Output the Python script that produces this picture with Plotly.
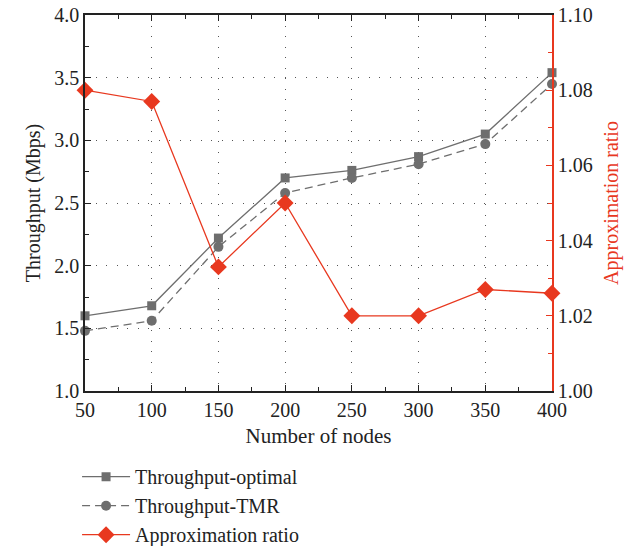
import plotly.graph_objects as go

nodes = [50, 100, 150, 200, 250, 300, 350, 400]
throughput_optimal = [1.60, 1.68, 2.22, 2.70, 2.76, 2.87, 3.05, 3.54]
throughput_tmr = [1.48, 1.56, 2.15, 2.58, 2.70, 2.81, 2.97, 3.45]
approx_ratio = [1.080, 1.077, 1.033, 1.050, 1.020, 1.020, 1.027, 1.026]

GRAY = "#6e6e6e"
RED = "#e8381f"
FONT = "Liberation Serif"
FS = 20
GRIDDASH = "1.2px,9.3px"

fig = go.Figure()
fig.add_trace(go.Scatter(x=nodes, y=throughput_optimal, name="Throughput-optimal",
                         mode="lines+markers", line=dict(color=GRAY, width=1.3),
                         marker=dict(symbol="square", size=9, color=GRAY), cliponaxis=False))
fig.add_trace(go.Scatter(x=nodes, y=throughput_tmr, name="Throughput-TMR",
                         mode="lines+markers", line=dict(color=GRAY, width=1.3, dash="8px,5px"),
                         marker=dict(symbol="circle", size=10, color=GRAY), cliponaxis=False))
fig.add_trace(go.Scatter(x=nodes, y=approx_ratio, name="Approximation ratio", yaxis="y2",
                         mode="lines+markers", line=dict(color=RED, width=1.3),
                         marker=dict(symbol="diamond", size=13, color=RED), cliponaxis=False))

fig.update_layout(
    width=644, height=546,
    margin=dict(l=85, r=92, t=15, b=155, autoexpand=False),
    paper_bgcolor="white", plot_bgcolor="white",
    font=dict(family=FONT, size=FS, color="#222"),
    showlegend=True,
    legend=dict(x=-0.017, y=-0.176, xanchor="left", yanchor="top",
                font=dict(family=FONT, size=20, color="#222"),
                bgcolor="rgba(0,0,0,0)", tracegroupgap=0, itemwidth=48),
    xaxis=dict(range=[50, 400], tickvals=[50, 100, 150, 200, 250, 300, 350, 400],
               ticks="inside", ticklen=6, tickcolor="#222", showline=True, linecolor="#222",
               linewidth=1.5, mirror="ticks", showgrid=True, gridcolor="#555",
               griddash=GRIDDASH, gridwidth=1, zeroline=False, automargin=False,
               minor=dict(ticks="inside", ticklen=4, dtick=25, tick0=50, tickcolor="#222", showgrid=False),
               title=dict(text="Number of nodes", font=dict(size=21), standoff=9)),
    yaxis=dict(range=[1.0, 4.0], tickvals=[1.0, 1.5, 2.0, 2.5, 3.0, 3.5, 4.0],
               ticktext=["1.0", "1.5", "2.0", "2.5", "3.0", "3.5", "4.0"],
               ticks="inside", ticklen=6, tickcolor="#222", showline=True, linecolor="#222",
               linewidth=1.5, showgrid=True, gridcolor="#555", griddash=GRIDDASH, gridwidth=1,
               zeroline=False, automargin=False, ticklabeloverflow="allow",
               minor=dict(ticks="inside", ticklen=4, dtick=0.25, tick0=1.0, tickcolor="#222", showgrid=False),
               title=dict(text="Throughput (Mbps)", font=dict(size=FS), standoff=8)),
    yaxis2=dict(range=[1.00, 1.10], overlaying="y", side="right",
                tickvals=[1.00, 1.02, 1.04, 1.06, 1.08, 1.10],
                ticktext=["1.00", "1.02", "1.04", "1.06", "1.08", "1.10"],
                ticks="inside", ticklen=6, tickcolor=RED, showline=True, linecolor=RED,
                linewidth=1.5, showgrid=False, zeroline=False, automargin=False,
                ticklabeloverflow="allow",
                tickfont=dict(color="#222", size=FS),
                minor=dict(ticks="inside", ticklen=4, dtick=0.01, tick0=1.0, tickcolor=RED, showgrid=False),
                title=dict(text="Approximation ratio", font=dict(size=FS, color=RED), standoff=12)),
)

fig.write_html("out.html", config={"displayModeBar": False},
               post_script="document.body.style.margin='0';document.body.style.overflow='hidden';")
